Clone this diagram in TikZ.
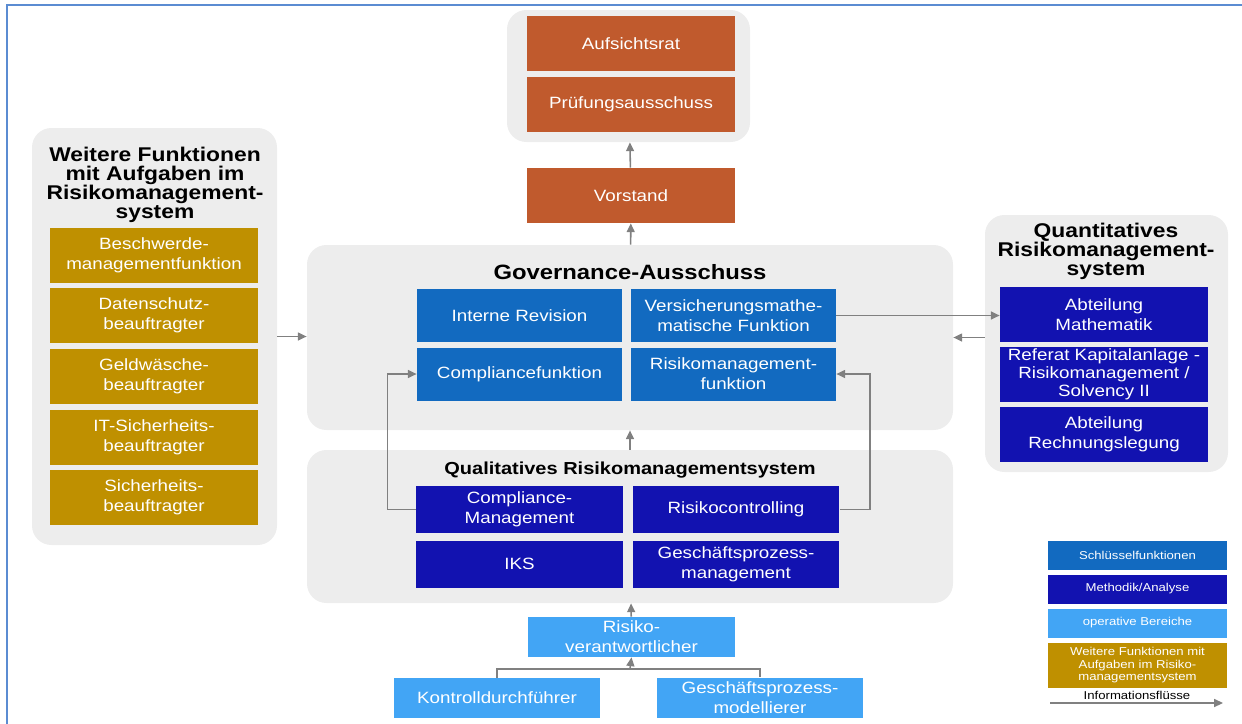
\documentclass[tikz,border=0pt]{standalone}
\usepackage{fontspec}
\setmainfont{Liberation Sans}[FakeStretch=1.15]
\usetikzlibrary{arrows.meta, fit, calc}
\definecolor{rust}{RGB}{192,90,45}
\definecolor{keyblue}{RGB}{18,106,192}
\definecolor{darkblue}{RGB}{18,18,176}
\definecolor{lightblue}{RGB}{66,165,245}
\definecolor{gold}{RGB}{191,144,0}
\definecolor{grpgray}{RGB}{237,237,237}
\definecolor{flowgray}{RGB}{128,128,128}
\definecolor{framec}{RGB}{91,140,210}

\tikzset{
  grp/.style={fill=grpgray, rounded corners=11pt, inner sep=0pt},
  grptitle/.style={font=\bfseries\fontsize{11.3}{10.8}\selectfont, align=center},
  box/.style={fill=#1, text=white, align=center, inner sep=0pt,
    minimum width=4.16cm, minimum height=1.1cm,
    font=\fontsize{9.3}{11.4}\selectfont},
  legbox/.style={box=#1, minimum width=3.58cm, minimum height=0.58cm,
    font=\fontsize{6.5}{7.1}\selectfont},
  flow/.style={draw=flowgray, line width=0.9pt, -{Triangle[length=5pt,width=4.5pt]}},
  wire/.style={draw=flowgray, line width=0.9pt}
}

\begin{document}
\begin{tikzpicture}[x=0.02cm,y=-0.02cm]
\useasboundingbox (0,0) rectangle (1242,724);
\draw[framec, line width=1pt] (7,724) -- (7,5) -- (1242,5);

% groups
\node[grp, fit={(507,10) (750,142)}] (topgrp) {};
\node[grp, fit={(307,245) (953,430)}] (govgrp) {};
\node[grp, fit={(307,450) (953,603)}] (qualgrp) {};
\node[grp, fit={(32,128) (277,545)}] (leftgrp) {};
\node[grp, fit={(985,215) (1228,472)}] (rightgrp) {};

% board
\node[box=rust] (aufsicht) at (631,43.5) {Aufsichtsrat};
\node[box=rust] (pruefung) at (631,104.5) {Prüfungsausschuss};
\node[box=rust] (vorstand) at (631,195.5) {Vorstand};

% governance
\node[grptitle, font=\bfseries\fontsize{11.8}{12}\selectfont] (govtitle) at (630,272) {Governance-Ausschuss};
\node[box=keyblue, minimum width=4.1cm, minimum height=1.06cm] (intrev) at (519.5,315.5) {Interne Revision};
\node[box=keyblue, minimum width=4.1cm, minimum height=1.06cm] (vmf) at (733.5,315.5) {Versicherungsmathe-\\matische Funktion};
\node[box=keyblue, minimum width=4.1cm, minimum height=1.06cm] (compf) at (519.5,374) {Compliancefunktion};
\node[box=keyblue, minimum width=4.1cm, minimum height=1.06cm] (rmf) at (733.5,374) {Risikomanagement-\\funktion};

% qualitative
\node[grptitle, font=\bfseries\fontsize{9.9}{12}\selectfont] (qualtitle) at (630,470) {Qualitatives Risikomanagementsystem};
\node[box=darkblue, minimum width=4.14cm, minimum height=0.94cm] (compm) at (519.5,509.5) {Compliance-\\Management};
\node[box=darkblue, minimum width=4.14cm, minimum height=0.94cm] (risikoc) at (736,509.5) {Risikocontrolling};
\node[box=darkblue, minimum width=4.14cm, minimum height=0.94cm] (iks) at (519.5,564) {IKS};
\node[box=darkblue, minimum width=4.14cm, minimum height=0.94cm] (gpm) at (736,564) {Geschäftsprozess-\\management};

% operative
\node[box=lightblue, minimum width=4.14cm, minimum height=0.8cm] (riskv) at (631.5,637) {Risiko-\\verantwortlicher};
\node[box=lightblue, minimum width=4.12cm, minimum height=0.8cm] (kontr) at (497,698) {Kontrolldurchführer};
\node[box=lightblue, minimum width=4.12cm, minimum height=0.8cm] (gpmod) at (760,697.5) {Geschäftsprozess-\\modellierer};

% further functions
\node[grptitle] (lefttitle) at (155,185) {Weitere Funktionen\\mit Aufgaben im\\Risikomanagement-\\system};
\node[box=gold] (beschw) at (154,255) {Beschwerde-\\managementfunktion};
\node[box=gold] (daten) at (154,315.5) {Datenschutz-\\beauftragter};
\node[box=gold] (geld) at (154,376.5) {Geldwäsche-\\beauftragter};
\node[box=gold] (itsich) at (154,437.5) {IT-Sicherheits-\\beauftragter};
\node[box=gold] (sich) at (154,497.5) {Sicherheits-\\beauftragter};

% quantitative
\node[grptitle] (righttitle) at (1106,251) {Quantitatives\\Risikomanagement-\\system};
\node[box=darkblue] (mathe) at (1104,314.5) {Abteilung\\Mathematik};
\node[box=darkblue, font=\fontsize{9.3}{10.3}\selectfont] (kapital) at (1104,374) {Referat Kapitalanlage -\\Risikomanagement /\\Solvency II};
\node[box=darkblue] (rechn) at (1104,434.5) {Abteilung\\Rechnungslegung};

% legend
\node[legbox=keyblue] (legkey) at (1137.5,555.5) {Schlüsselfunktionen};
\node[legbox=darkblue] (legmeth) at (1137.5,589) {Methodik/Analyse};
\node[legbox=lightblue] (legop) at (1137.5,623) {operative Bereiche};
\node[legbox=gold, minimum height=0.9cm] (legweit) at (1137.5,665.5) {Weitere Funktionen mit\\Aufgaben im Risiko-\\managementsystem};
\node[font=\fontsize{6.5}{7.1}\selectfont] (legflow) at (1137,695) {Informationsflüsse};
\coordinate (legA) at (1050,703);
\coordinate (legB) at (1223,703);
\draw[flow] (legA) -- (legB);

% information flows
\draw[flow] (vorstand) -- (topgrp);
\draw[flow] (govgrp) -- (vorstand);
\draw[flow] (qualgrp) -- (govgrp);
\draw[flow] (riskv) -- (qualgrp);
\coordinate (join) at (630,669);
\draw[wire] (kontr.north) |- (join) -| (gpmod.north);
\draw[flow] (join) -- (riskv.south);
\draw[flow] (compm.west) -- ++(-28,0) |- (compf.west);
\draw[flow] (risikoc.east) -- ++(30,0) |- (rmf.east);
\draw[flow] (leftgrp.east) -- (leftgrp.east -| govgrp.west);
\draw[flow] (vmf.east) -- (vmf.east -| mathe.west);
\draw[flow] (rightgrp.west |- govgrp.east) -- (govgrp.east);

\end{tikzpicture}
\end{document}
